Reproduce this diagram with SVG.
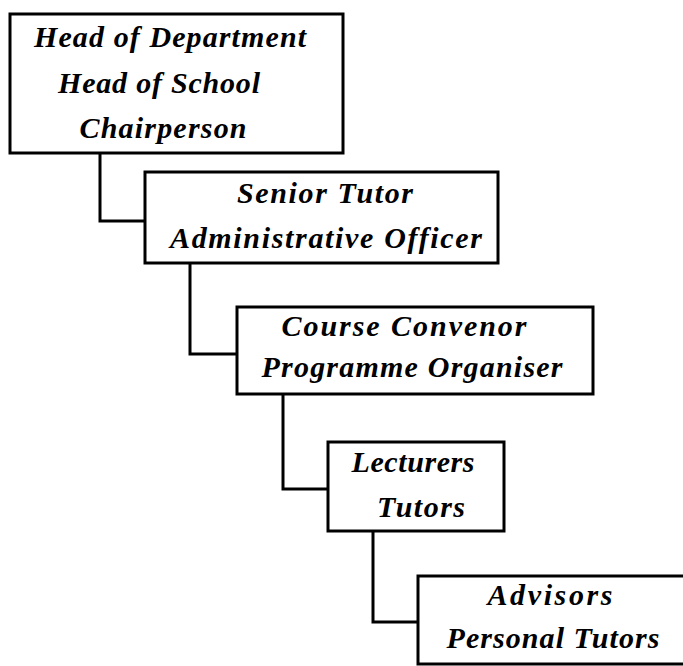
<svg xmlns="http://www.w3.org/2000/svg" width="683" height="666" viewBox="0 0 683 666">
<style>
.box{fill:#fff;stroke:#000;stroke-width:3}
.con{fill:none;stroke:#000;stroke-width:3;stroke-linejoin:miter}
text{font-family:"Liberation Serif","Times New Roman",serif;font-style:italic;font-weight:bold;font-size:30px;fill:#000;text-anchor:middle}
</style>
<rect width="683" height="666" fill="#fff"/>
<g id="connectors">
<polyline class="con" points="100,153 100,221 145,221"/>
<polyline class="con" points="190,262 190,354 237,354"/>
<polyline class="con" points="283,394 283,489 328,489"/>
<polyline class="con" points="373,531 373,622 418,622"/>
</g>
<g id="n1">
<rect class="box" x="10" y="14" width="333" height="139"/>
<text x="170" y="47" textLength="272" lengthAdjust="spacing">Head of Department</text>
<text x="159" y="93" textLength="202" lengthAdjust="spacing">Head of School</text>
<text x="163" y="138" textLength="167" lengthAdjust="spacing">Chairperson</text>
</g>
<g id="n2">
<rect class="box" x="145" y="172" width="353" height="91"/>
<text x="325" y="203" textLength="176" lengthAdjust="spacing">Senior Tutor</text>
<text x="326" y="248" textLength="312" lengthAdjust="spacing">Administrative Officer</text>
</g>
<g id="n3">
<rect class="box" x="237" y="307" width="356" height="87"/>
<text x="404" y="336" textLength="245" lengthAdjust="spacing">Course Convenor</text>
<text x="412" y="377" textLength="301" lengthAdjust="spacing">Programme Organiser</text>
</g>
<g id="n4">
<rect class="box" x="328" y="442" width="176" height="89"/>
<text x="413" y="472" textLength="123" lengthAdjust="spacing">Lecturers</text>
<text x="421" y="517" textLength="88" lengthAdjust="spacing">Tutors</text>
</g>
<g id="n5">
<rect class="box" x="418" y="576" width="280" height="88"/>
<text x="550" y="605" textLength="125" lengthAdjust="spacing">Advisors</text>
<text x="553" y="648" textLength="213" lengthAdjust="spacing">Personal Tutors</text>
</g>
</svg>
